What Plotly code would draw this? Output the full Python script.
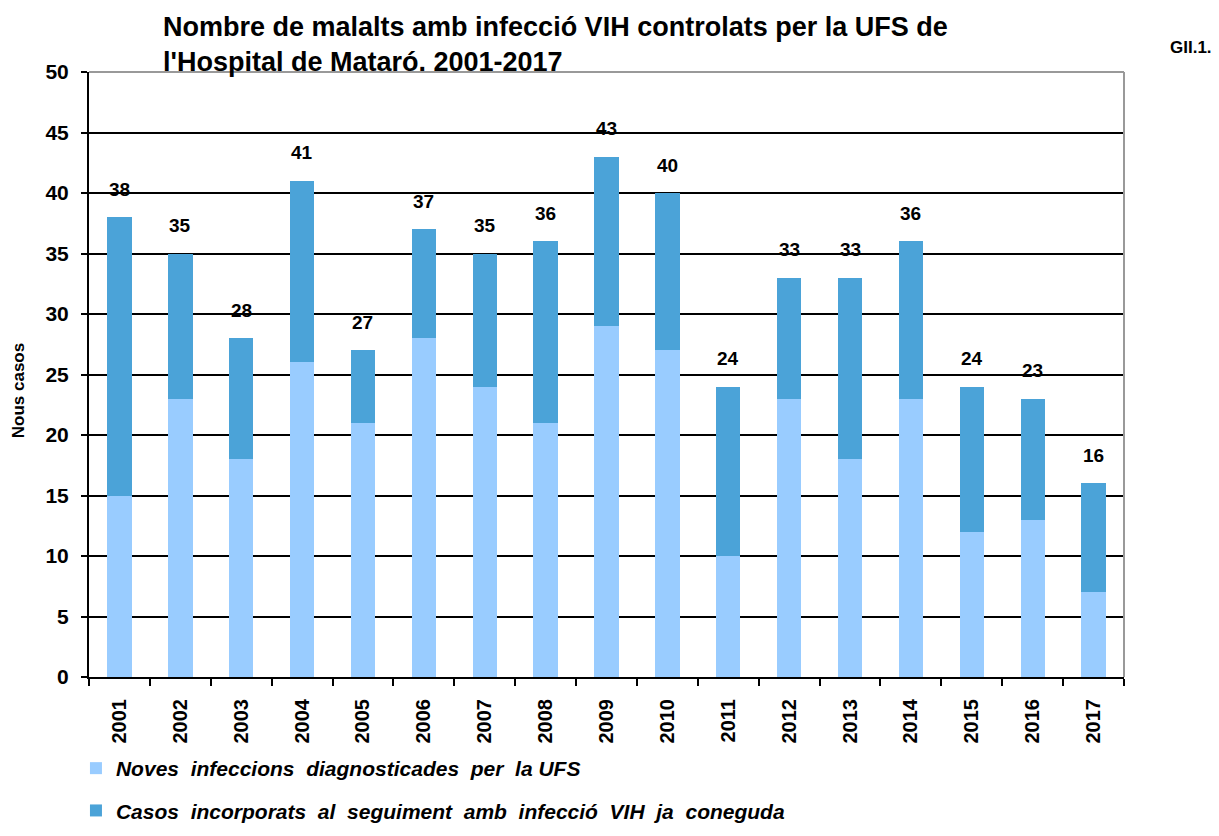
import plotly.graph_objects as go

years = [str(y) for y in range(2001, 2018)]
noves = [15, 23, 18, 26, 21, 28, 24, 21, 29, 27, 10, 23, 18, 23, 12, 13, 7]
totals = [38, 35, 28, 41, 27, 37, 35, 36, 43, 40, 24, 33, 33, 36, 24, 23, 16]
incorporats = [t - n for t, n in zip(totals, noves)]

FONT = "Liberation Sans, Arial, sans-serif"

fig = go.Figure()
fig.add_trace(go.Bar(x=years, y=noves, name="<b><i>Noves  infeccions  diagnosticades  per  la UFS</i></b>",
                     marker=dict(color="#99CCFF", line=dict(width=0)), legendgroup="a"))
fig.add_trace(go.Bar(x=years, y=incorporats, name="<b><i>Casos  incorporats  al  seguiment  amb  infecció  VIH  ja  coneguda</i></b>",
                     marker=dict(color="#4BA3D8", line=dict(width=0)), legendgroup="b"))

for i, t in enumerate(totals):
    fig.add_annotation(x=i, y=t, text=f"<b>{t}</b>", showarrow=False, yanchor="middle",
                       yshift=28, font=dict(family=FONT, size=19, color="black"))

fig.add_annotation(xref="paper", yref="paper", x=-0.0686, y=0.474, xanchor="center", yanchor="middle",
                   text="<b>Nous casos</b>", textangle=-90, showarrow=False,
                   font=dict(family=FONT, size=17, color="black"))
fig.add_annotation(xref="paper", yref="paper", x=1.0425, y=1.04, xanchor="left", yanchor="middle",
                   text="<b>GII.1.</b>", showarrow=False, font=dict(family=FONT, size=17, color="black"))

# gray top and right border
fig.add_shape(type="line", xref="paper", yref="paper", x0=0, x1=1, y0=1, y1=1,
              line=dict(color="#999999", width=2), layer="above")
fig.add_shape(type="line", xref="paper", yref="paper", x0=1, x1=1, y0=0, y1=1,
              line=dict(color="#999999", width=2), layer="above")

fig.update_layout(
    width=1203, height=820,
    margin=dict(l=81, r=87, t=64, b=151),
    barmode="stack", bargap=0.6,
    plot_bgcolor="white", paper_bgcolor="white",
    font=dict(family=FONT, color="black"),
    title=dict(text="<b>Nombre de malalts amb infecció VIH controlats per la UFS de<br>l'Hospital de Mataró. 2001-2017</b>",
               x=155/1203, xanchor="left", xref="container", yref="container", y=1 - 28/820, yanchor="top",
               font=dict(family=FONT, size=27, color="black")),
    legend=dict(x=-0.0126, y=1 - 740/820, xanchor="left", yanchor="top", yref="container",
                orientation="v", bgcolor="rgba(0,0,0,0)",
                traceorder="grouped", tracegroupgap=12,
                font=dict(family=FONT, size=21, color="black"), itemwidth=30),
    xaxis=dict(type="category", showline=True, linecolor="black", linewidth=2,
               ticks="outside", tickson="boundaries", ticklen=7, tickcolor="black", tickwidth=2,
               tickangle=-90, tickfont=dict(family=FONT, size=20, color="black"), ticklabelstandoff=12,
               tickprefix="<b>", ticksuffix="</b>", showgrid=False, automargin=False),
    yaxis=dict(range=[0, 50], dtick=5, showline=True, linecolor="black", linewidth=2,
               ticks="outside", ticklen=6, tickcolor="black", tickwidth=2,
               showgrid=True, gridcolor="black", gridwidth=1.5,
               tickfont=dict(family=FONT, size=21, color="black"), ticklabelstandoff=8,
               tickprefix="<b>", ticksuffix="</b>", zeroline=False, automargin=False),
)

fig.write_html("out.html")
